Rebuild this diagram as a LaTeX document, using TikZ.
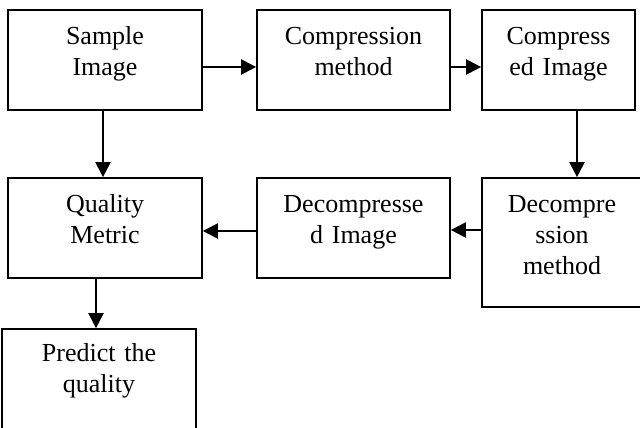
\documentclass[tikz,border=0pt]{standalone}
\usepackage{fontspec}
\setmainfont{Liberation Serif}
\usetikzlibrary{arrows.meta}
\tikzset{
  box/.style={draw, line width=1.7pt, inner sep=0pt, minimum height=100pt},
  txt/.style={anchor=base, inner sep=0pt, text width=180pt, align=center,
              font=\fontsize{26}{31}\selectfont},
  arr/.style={line width=2.2pt, -{Triangle[length=15pt,width=15pt]}}
}
\begin{document}
\begin{tikzpicture}[x=1pt,y=-1pt]
\useasboundingbox (0,0) rectangle (640,428);
\clip (0,0) rectangle (640,428);
\fill[white] (0,0) rectangle (640,428);

% top row
\node[box, minimum width=194pt] (s)  at (105,60)   {};
\node[box, minimum width=193pt] (c)  at (353.5,60) {};
\node[box, minimum width=153pt] (ci) at (558.5,60) {};
% middle row
\node[box, minimum width=194pt] (q)  at (105,228)   {};
\node[box, minimum width=193pt] (d)  at (353.5,228) {};
\node[box, minimum width=160pt, minimum height=129pt] (dm) at (562,242.5) {};
% bottom
\node[box, minimum width=194pt, minimum height=111pt] (p) at (99,384.5) {};

% labels, first baseline 35pt below each box top
\node[txt] (st)  at ([yshift=-35pt]s.north)  {Sample\\Image};
\node[txt] (ct)  at ([yshift=-35pt]c.north)  {Compression\\method};
\node[txt] (cit) at ([yshift=-35pt]ci.north) {Compress\\ed Image};
\node[txt] (qt)  at ([yshift=-35pt]q.north)  {Quality\\Metric};
\node[txt] (dt)  at ([yshift=-35pt]d.north)  {Decompresse\\d Image};
\node[txt] (dmt) at ([yshift=-35pt]dm.north) {Decompre\\ssion\\method};
\node[txt] (pt)  at ([yshift=-33pt]p.north)  {Predict the\\quality};

% connectors
\draw[arr] ([yshift=-7pt]s.east) -- ([yshift=-7pt]s.east -| c.west);
\draw[arr] ([yshift=-7pt]c.east) -- ([yshift=-7pt]c.east -| ci.west);
\draw[arr] ([xshift=18.5pt]ci.south) -- ([xshift=18.5pt]ci.south |- dm.north);
\draw[arr] ([xshift=-2pt]s.south) -- ([xshift=-2pt]s.south |- q.north);
\draw[arr] ([yshift=12.5pt]dm.west) -- ([yshift=12.5pt]dm.west -| d.east);
\draw[arr] ([yshift=-3pt]d.west) -- ([yshift=-3pt]d.west -| q.east);
\draw[arr] ([xshift=-9pt]q.south) -- ([xshift=-9pt]q.south |- p.north);
\end{tikzpicture}
\end{document}
